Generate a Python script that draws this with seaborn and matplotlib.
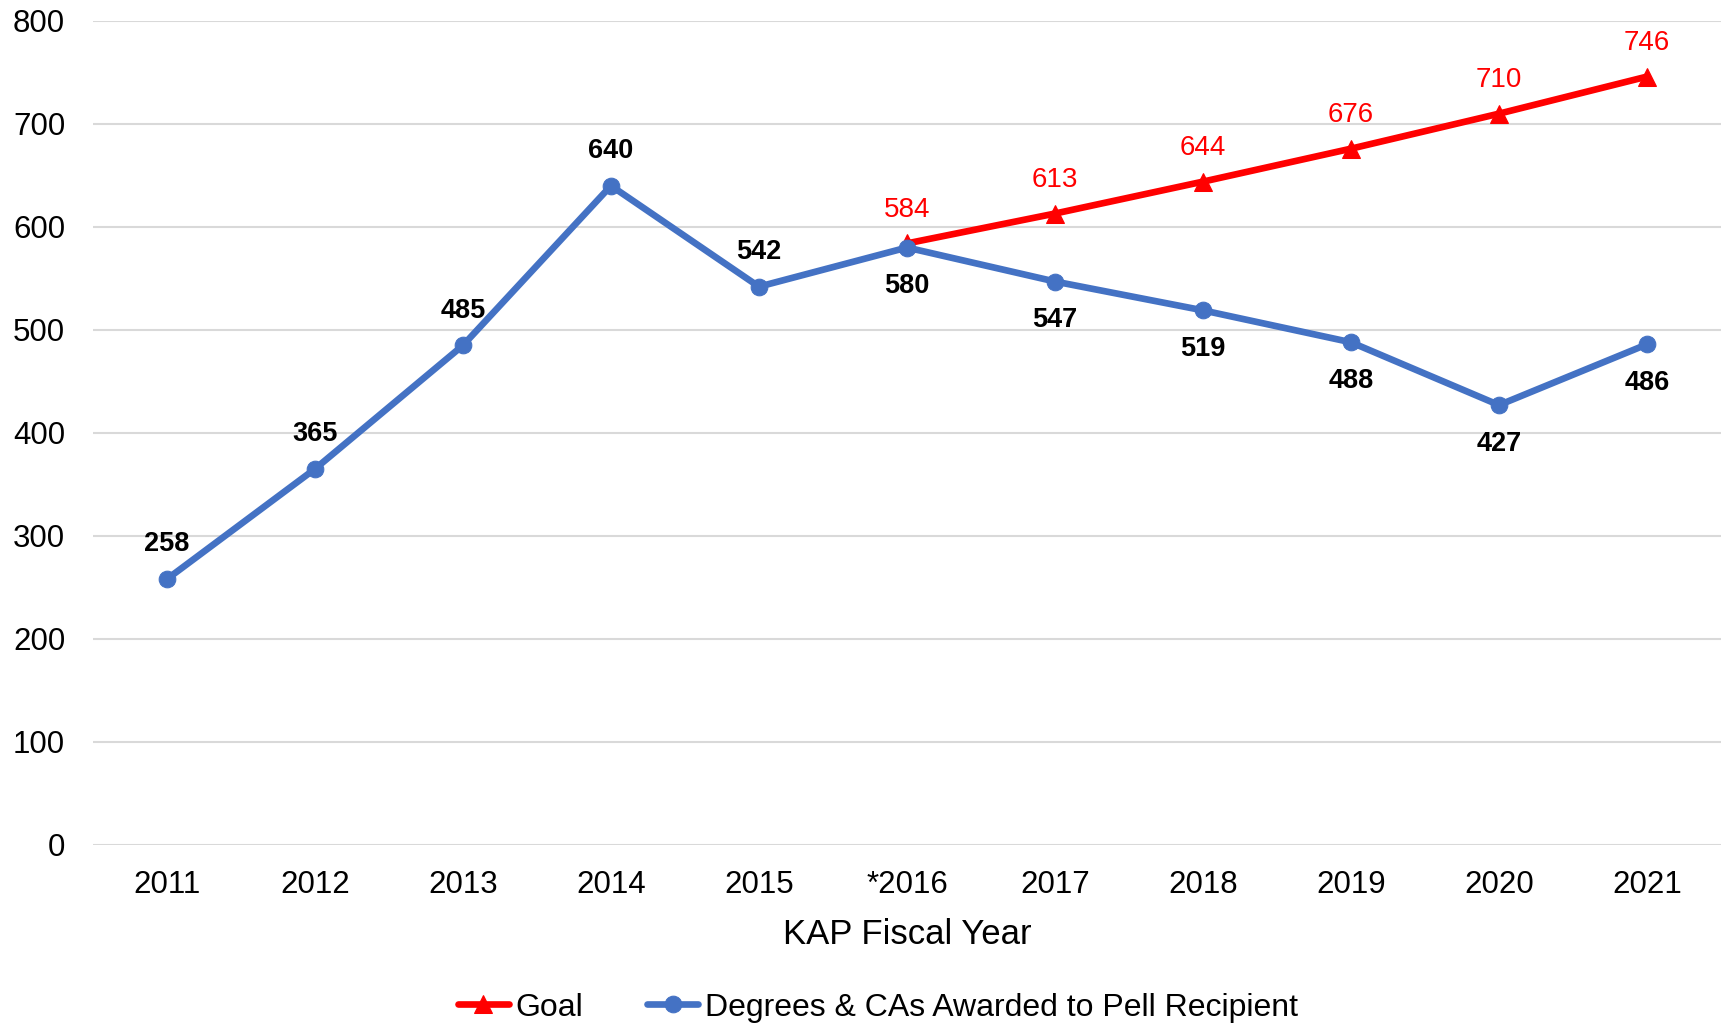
import matplotlib
matplotlib.use('Agg')
import matplotlib.pyplot as plt
import seaborn as sns
import pandas as pd

# Data
years = ['2011', '2012', '2013', '2014', '2015', '*2016', '2017', '2018', '2019', '2020', '2021']
awarded = [258, 365, 485, 640, 542, 580, 547, 519, 488, 427, 486]
goal_years = ['*2016', '2017', '2018', '2019', '2020', '2021']
goal = [584, 613, 644, 676, 710, 746]

blue = '#4472C4'
red = '#FF0000'

sns.set_theme(style='white')
plt.rcParams['font.family'] = ['Liberation Sans', 'DejaVu Sans']
plt.rcParams['text.color'] = 'black'
plt.rcParams['xtick.color'] = 'black'
plt.rcParams['ytick.color'] = 'black'
plt.rcParams['axes.labelcolor'] = 'black'

df_awarded = pd.DataFrame({'year': years, 'value': awarded})
df_goal = pd.DataFrame({'year': goal_years, 'value': goal})

fig = plt.figure(figsize=(17.21, 10.24), dpi=100)
ax = fig.add_axes([0.054, 0.175, 0.946, 0.8045])

# Blue series first so categories register in order
sns.lineplot(data=df_awarded, x='year', y='value', ax=ax, color=blue, linewidth=4.8,
             marker='o', markersize=12, markeredgecolor=blue, zorder=4,
             label='Degrees & CAs Awarded to Pell Recipient')
sns.lineplot(data=df_goal, x='year', y='value', ax=ax, color=red, linewidth=4.8,
             marker='^', markersize=13, markeredgecolor=red, zorder=3,
             label='Goal')

# Data labels
for i, (yr, v) in enumerate(zip(years, awarded)):
    off = 25 if i < 5 else -28
    ax.annotate(str(v), (yr, v), xytext=(0, off), textcoords='offset points',
                ha='center', va='center', fontsize=19.5, fontweight='bold', color='black')
for yr, v in zip(goal_years, goal):
    ax.annotate(str(v), (yr, v), xytext=(0, 24), textcoords='offset points',
                ha='center', va='center', fontsize=20, color=red)

ax.set_ylim(0, 800)
ax.set_yticks(range(0, 801, 100))
ax.set_xlim(-0.5, len(years) - 0.5)
ax.yaxis.grid(True, color='#d9d9d9', linewidth=1.5)
ax.xaxis.grid(False)
for s in ax.spines.values():
    s.set_visible(False)
ax.tick_params(axis='y', length=0, pad=20, labelsize=22.5)
ax.tick_params(axis='x', length=0, pad=18, labelsize=22.5)
ax.set_ylabel('')
ax.set_xlabel('KAP Fiscal Year', fontsize=25, labelpad=13)

handles, labels = ax.get_legend_handles_labels()
ax.get_legend().remove()
fig.legend(handles[::-1], labels[::-1], loc='center', bbox_to_anchor=(0.51, 0.016),
           ncol=2, frameon=False, fontsize=23, handlelength=1.6, handletextpad=0.2,
           columnspacing=2.0)

plt.savefig('out.png', dpi=100)
plt.close()
